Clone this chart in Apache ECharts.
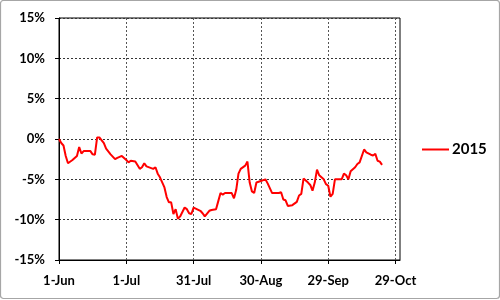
<!DOCTYPE html>
<html>
<head>
<meta charset="utf-8">
<script src="https://cdn.jsdelivr.net/npm/echarts@6/dist/echarts.min.js"></script>
<style>
html,body{margin:0;padding:0;background:#fff;}
#chart{width:500px;height:300px;}
</style>
</head>
<body>
<div id="chart"></div>
<script>
const seriesName = '2015';
const dates = [
'2015-06-01','2015-06-02','2015-06-03','2015-06-04','2015-06-05','2015-06-07','2015-06-09','2015-06-10','2015-06-11','2015-06-12',
'2015-06-15','2015-06-16','2015-06-17','2015-06-18','2015-06-19','2015-06-21','2015-06-22','2015-06-24','2015-06-26','2015-06-27',
'2015-06-29','2015-07-01','2015-07-02','2015-07-03','2015-07-05','2015-07-07','2015-07-08','2015-07-09','2015-07-10','2015-07-13',
'2015-07-14','2015-07-15','2015-07-16','2015-07-18','2015-07-19','2015-07-20','2015-07-21','2015-07-22','2015-07-23','2015-07-24',
'2015-07-25','2015-07-27','2015-07-28','2015-07-29','2015-07-30','2015-07-31','2015-08-03','2015-08-04','2015-08-05','2015-08-07',
'2015-08-08','2015-08-10','2015-08-11','2015-08-12','2015-08-13','2015-08-14','2015-08-17','2015-08-18','2015-08-19','2015-08-20',
'2015-08-21','2015-08-23','2015-08-24','2015-08-25','2015-08-26','2015-08-27','2015-08-28','2015-08-30','2015-09-01','2015-09-02',
'2015-09-04','2015-09-07','2015-09-08','2015-09-09','2015-09-10','2015-09-11','2015-09-13','2015-09-15','2015-09-16','2015-09-17',
'2015-09-18','2015-09-20','2015-09-21','2015-09-22','2015-09-23','2015-09-24','2015-09-25','2015-09-27','2015-09-28','2015-09-29',
'2015-09-30','2015-10-01','2015-10-02','2015-10-04','2015-10-05','2015-10-06','2015-10-07','2015-10-08','2015-10-09','2015-10-11',
'2015-10-12','2015-10-13','2015-10-15','2015-10-16','2015-10-18','2015-10-19','2015-10-20','2015-10-21','2015-10-22','2015-10-23'
];
const values = [
0,-0.5,-0.8,-2.1,-3.0,-2.6,-2.1,-1.0,-1.8,-1.5,
-1.5,-1.9,-1.95,0.2,0.2,-0.5,-1.2,-1.9,-2.5,-2.35,
-2.1,-2.6,-2.9,-2.7,-2.8,-3.7,-3.5,-3.0,-3.4,-3.7,
-3.5,-4.3,-4.75,-6.0,-7.2,-7.85,-7.85,-9.3,-8.7,-9.9,
-9.6,-8.5,-8.7,-9.2,-9.3,-8.5,-8.9,-9.2,-9.6,-8.9,
-8.8,-8.7,-7.7,-6.7,-6.9,-6.7,-6.7,-7.35,-6.3,-4.3,
-3.7,-3.3,-2.8,-5.4,-6.5,-6.7,-5.4,-5.2,-5.0,-5.5,
-6.7,-6.7,-6.6,-7.5,-7.6,-8.3,-8.2,-7.8,-7.0,-6.8,
-4.9,-5.4,-5.7,-6.4,-5.4,-3.8,-4.5,-5.0,-5.6,-5.8,
-7.15,-6.8,-5.0,-5.0,-5.0,-4.3,-4.5,-5.0,-4.0,-3.5,
-3.1,-2.9,-1.3,-1.65,-1.95,-2.05,-1.85,-2.7,-2.8,-3.2
];
const xTickLabels = ['1-Jun','1-Jul','31-Jul','30-Aug','29-Sep','29-Oct'];
const yTickValues = [-15,-10,-5,0,5,10,15];

const startMs = Date.UTC(2015,5,1);
const dayOf = s => Math.round((new Date(s + 'T00:00:00Z').getTime() - startMs) / 86400000);
const lineData = dates.map((d,i) => [dayOf(d), values[i]]);
const labelDays = xTickLabels.map((_, i) => i * 30);

const font = 'Lato, "Liberation Sans", sans-serif';
const chart = echarts.init(document.getElementById('chart'), null, {renderer:'canvas'});
chart.setOption({
  animation: false,
  backgroundColor: '#fff',
  graphic: [{
    type: 'rect', z: 100, silent: true,
    shape: {x: 0.5, y: 0.5, width: 499, height: 298, r: 3},
    style: {fill: 'none', stroke: '#a6a6a6', lineWidth: 1.2}
  }],
  grid: {left: 59, right: 100, top: 18, bottom: 40, show: true, borderColor: '#000', borderWidth: 1, backgroundColor: 'transparent'},
  legend: {
    data: [{name: seriesName, icon: 'rect'}], left: 422, top: 142, padding: 0, itemWidth: 27, itemHeight: 2, itemGap: 4,
    itemStyle: {color: '#ff0000'},
    textStyle: {fontFamily: font, fontWeight: 'bold', fontSize: 15, color: '#000', padding: [0,0,0,-2]}
  },
  xAxis: {
    type: 'value', min: 0, max: 152, interval: 15,
    axisLine: {show: true, onZero: false, lineStyle: {color: '#000', width: 1}},
    axisTick: {show: true, customValues: labelDays, length: 4, inside: false, lineStyle: {color: '#000'}},
    axisLabel: {
      customValues: labelDays, margin: 14, fontFamily: font, fontWeight: 'bold', fontSize: 13, color: '#000',
      formatter: v => xTickLabels[Math.round(v / 30)] || ''
    },
    splitLine: {show: true, lineStyle: {color: '#555', type: [2,2], width: 1}}
  },
  yAxis: {
    type: 'value', min: -15, max: 15, interval: 5,
    axisLine: {show: true, onZero: false, lineStyle: {color: '#000', width: 1}},
    axisTick: {show: true, length: 4, lineStyle: {color: '#000'}},
    axisLabel: {
      margin: 14, fontFamily: font, fontWeight: 'bold', fontSize: 13, color: '#000',
      formatter: v => yTickValues.includes(v) ? v + '%' : ''
    },
    splitLine: {show: true, lineStyle: {color: '#333', type: [2,2], width: 1}}
  },
  series: [{
    name: seriesName, type: 'line', data: lineData, symbol: 'none',
    lineStyle: {color: '#ff0000', width: 2}, itemStyle: {color: '#ff0000'}
  }]
});
</script>
</body>
</html>
